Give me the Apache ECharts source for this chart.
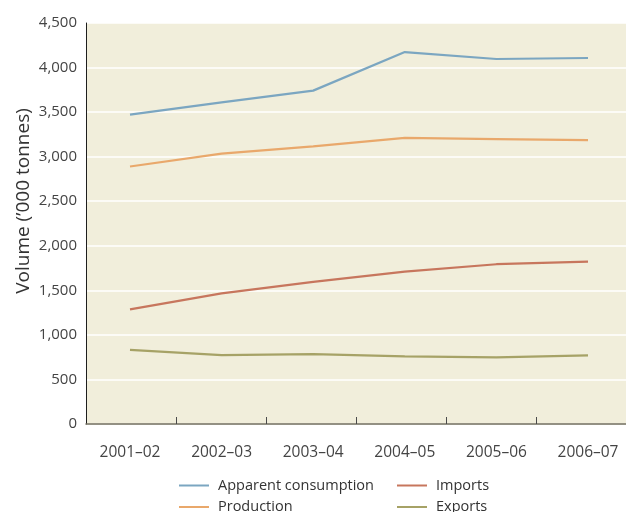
<!DOCTYPE html>
<html>
<head>
<meta charset="utf-8">
<script src="https://cdn.jsdelivr.net/npm/echarts@6/dist/echarts.min.js"></script>
<style>
  html, body { margin: 0; padding: 0; background: #ffffff; }
  #chart { width: 626px; height: 512px; }
</style>
</head>
<body>
<div id="chart"></div>
<script>
// Financial years on the horizontal axis
const years = ['2001–02', '2002–03', '2003–04', '2004–05', '2005–06', '2006–07'];

// Volumes in thousand tonnes
const apparentConsumption = [3471, 3610, 3741, 4174, 4096, 4107];
const production = [2890, 3035, 3115, 3210, 3197, 3186];
const imports = [1287, 1465, 1595, 1710, 1793, 1823];
const exportsVol = [831, 772, 785, 759, 748, 771];

// Vertical axis range and step
const yMin = 0;
const yMax = 4500;
const yStep = 500;

const FONT = '"Open Sans", "Noto Sans", sans-serif';
const PLOT_TOP = 23;
const PLOT_BOTTOM = 88;

const chart = echarts.init(document.getElementById('chart'), null, { renderer: 'canvas' });

const legendBase = {
  orient: 'vertical', top: 473, height: 80, itemGap: 6.5,
  icon: 'rect', itemWidth: 30, itemHeight: 2,
  textStyle: { fontSize: 14.5, color: '#333333', fontFamily: FONT, padding: [0, 0, 0, 4] }
};

chart.setOption({
  animation: false,
  backgroundColor: '#ffffff',
  textStyle: { fontFamily: FONT },
  grid: [
    // panel: background, value axis, base line and tick marks
    { left: 86, right: 0, top: PLOT_TOP, bottom: PLOT_BOTTOM, show: true,
      backgroundColor: '#f1eedb', borderWidth: 0 },
    // plotted lines and their year labels
    { left: 130, right: 38, top: PLOT_TOP, bottom: PLOT_BOTTOM }
  ],
  xAxis: [
    { type: 'category', gridIndex: 0, data: years,
      axisLine: { show: true, lineStyle: { color: '#706d5c', width: 1.5 } },
      axisTick: { show: true, inside: true, length: 7,
        interval: (i) => i > 0,
        lineStyle: { color: '#4a4a4a', width: 1 } },
      axisLabel: { show: false }, splitLine: { show: false } },
    { type: 'category', gridIndex: 1, data: years, boundaryGap: false,
      axisLine: { show: false }, axisTick: { show: false },
      axisLabel: { show: true, margin: 21, fontSize: 15.5, color: '#444444', fontFamily: FONT } }
  ],
  yAxis: [
    { type: 'value', gridIndex: 0, min: yMin, max: yMax, interval: yStep,
      name: 'Volume (’000 tonnes)', nameLocation: 'middle', nameGap: 53,
      nameMoveOverlap: false,
      nameTextStyle: { fontSize: 19, color: '#333333', fontFamily: FONT, padding: [0, 0, 0, 45] },
      axisLine: { show: true, lineStyle: { color: '#1e1e1e', width: 1 } },
      axisTick: { show: false },
      axisLabel: { margin: 9, fontSize: 15, color: '#444444', fontFamily: FONT,
        formatter: (v) => v.toLocaleString('en-US') },
      splitLine: { show: true, lineStyle: { color: '#ffffff', width: 1.5 } } },
    { type: 'value', gridIndex: 1, min: yMin, max: yMax, interval: yStep, show: false }
  ],
  legend: [
    Object.assign({}, legendBase, { left: 174, data: ['Apparent consumption', 'Production'] }),
    Object.assign({}, legendBase, { left: 392, data: ['Imports', 'Exports'] })
  ],
  series: [
    { name: 'Apparent consumption', data: apparentConsumption, color: '#7ba6c1' },
    { name: 'Production', data: production, color: '#e9a86b' },
    { name: 'Imports', data: imports, color: '#c7765d' },
    { name: 'Exports', data: exportsVol, color: '#a6a266' }
  ].map((s) => ({
    type: 'line', name: s.name, data: s.data,
    xAxisIndex: 1, yAxisIndex: 1,
    showSymbol: false, symbol: 'none',
    itemStyle: { color: s.color },
    lineStyle: { color: s.color, width: 2.2 }
  }))
});
</script>
</body>
</html>
